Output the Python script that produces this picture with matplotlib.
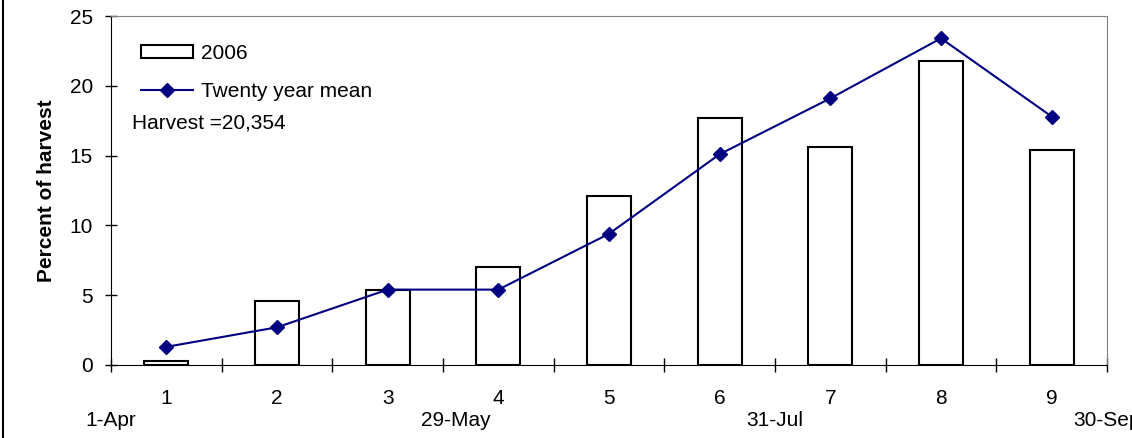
import matplotlib.pyplot as plt
from matplotlib.lines import Line2D
from matplotlib.patches import Rectangle
import matplotlib.transforms as mtrans

plt.rcParams['font.family'] = ['Liberation Sans', 'DejaVu Sans']

# harvest share by period
periods = [1, 2, 3, 4, 5, 6, 7, 8, 9]
pct_2006 = [0.3, 4.6, 5.4, 7.0, 12.1, 17.7, 15.6, 21.8, 15.4]
pct_mean = [1.3, 2.7, 5.4, 5.4, 9.4, 15.1, 19.1, 23.4, 17.8]

date_labels = ['1-Apr', '29-May', '31-Jul', '30-Sep']
date_pos = [0.5, 3.62, 6.5, 9.5]

FS = 15

fig = plt.figure(figsize=(11.32, 4.38), dpi=100)
ax = fig.add_axes([111 / 1132, 1 - 365 / 438, 996 / 1132, 349 / 438])

ax.bar(periods, pct_2006, width=0.4, color='white', edgecolor='black', linewidth=1.5, zorder=2)
ax.plot(periods, pct_mean, color='#000080', linewidth=1.5, marker='D', markersize=7,
        markerfacecolor='#000080', markeredgecolor='#000080', zorder=3)

ax.set_xlim(0.5, 9.5)
ax.set_ylim(0, 25)
ax.set_yticks([0, 5, 10, 15, 20, 25])
ax.tick_params(axis='y', direction='inout', length=8, width=1, labelsize=FS, pad=9)

# boundaries get the ticks, period numbers go in between
ax.set_xticks([p - 0.5 for p in periods] + [9.5])
ax.set_xticklabels([])
ax.tick_params(axis='x', which='major', direction='inout', length=10, width=1)
ax.set_xticks(periods, minor=True)
ax.set_xticklabels([str(p) for p in periods], minor=True)
ax.tick_params(axis='x', which='minor', length=0, labelsize=FS, pad=17)

for s in ['top', 'right']:
    ax.spines[s].set_color('#808080')
for s in ['left', 'bottom']:
    ax.spines[s].set_color('black')

trans = mtrans.blended_transform_factory(ax.transData, ax.transAxes)
for lab, xp in zip(date_labels, date_pos):
    ax.text(xp, -0.159, lab, transform=trans, ha='center', va='center', fontsize=FS, clip_on=False)

ax.set_ylabel('Percent of harvest', fontsize=FS, fontweight='bold', labelpad=9.5)

handles = [Rectangle((0, 0), 1, 1, facecolor='white', edgecolor='black', linewidth=1.5),
           Line2D([], [], color='#000080', linewidth=1.5, marker='D', markersize=7)]
ax.legend(handles, ['2006', 'Twenty year mean'], loc='upper left', bbox_to_anchor=(0.0301, 0.921),
          frameon=False, fontsize=FS, handlelength=2.5, handleheight=0.58, handletextpad=0.38,
          labelspacing=0.94, borderpad=0, borderaxespad=0)
ax.text(0.0208, 0.694, 'Harvest =20,354', transform=ax.transAxes, fontsize=FS, va='center')

# chart area border on the left
fig.add_artist(Line2D([3 / 1132, 3 / 1132], [0, 1], color='black', linewidth=1.5))

fig.savefig('out.png', dpi=100)
